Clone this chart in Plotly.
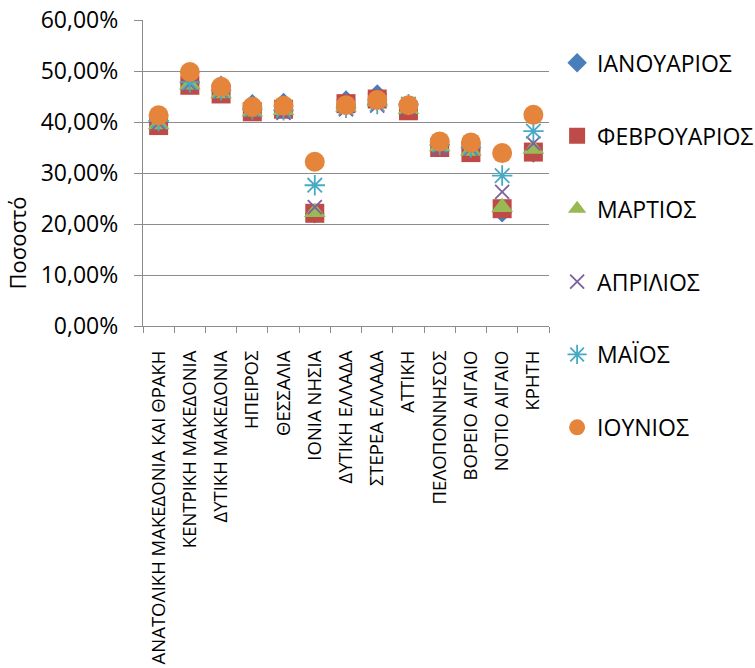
import plotly.graph_objects as go

categories = ["ΑΝΑΤΟΛΙΚΗ ΜΑΚΕΔΟΝΙΑ ΚΑΙ ΘΡΑΚΗ", "ΚΕΝΤΡΙΚΗ ΜΑΚΕΔΟΝΙΑ", "ΔΥΤΙΚΗ ΜΑΚΕΔΟΝΙΑ",
              "ΗΠΕΙΡΟΣ", "ΘΕΣΣΑΛΙΑ", "ΙΟΝΙΑ ΝΗΣΙΑ", "ΔΥΤΙΚΗ ΕΛΛΑΔΑ", "ΣΤΕΡΕΑ ΕΛΛΑΔΑ",
              "ΑΤΤΙΚΗ", "ΠΕΛΟΠΟΝΝΗΣΟΣ", "ΒΟΡΕΙΟ ΑΙΓΑΙΟ", "ΝΟΤΙΟ ΑΙΓΑΙΟ", "ΚΡΗΤΗ"]

ianouarios = [0.400, 0.475, 0.472, 0.436, 0.438, 0.220, 0.443, 0.455, 0.430, 0.355, 0.345, 0.222, 0.339]
fevrouarios = [0.393, 0.472, 0.455, 0.420, 0.425, 0.221, 0.436, 0.445, 0.422, 0.350, 0.340, 0.230, 0.341]
martios = [0.395, 0.473, 0.456, 0.420, 0.423, 0.223, 0.430, 0.440, 0.425, 0.352, 0.343, 0.233, 0.347]
aprilios = [0.398, 0.475, 0.460, 0.423, 0.418, 0.233, 0.425, 0.432, 0.428, 0.348, 0.348, 0.263, 0.358]
maios = [0.402, 0.478, 0.462, 0.425, 0.423, 0.276, 0.428, 0.435, 0.435, 0.355, 0.350, 0.295, 0.382]
iounios = [0.413, 0.498, 0.469, 0.430, 0.432, 0.322, 0.433, 0.443, 0.433, 0.362, 0.360, 0.339, 0.414]

series_names = ["ΙΑΝΟΥΑΡΙΟΣ", "ΦΕΒΡΟΥΑΡΙΟΣ", "ΜΑΡΤΙΟΣ", "ΑΠΡΙΛΙΟΣ", "ΜΑΪΟΣ", "ΙΟΥΝΙΟΣ"]
series_values = [ianouarios, fevrouarios, martios, aprilios, maios, iounios]

styles = [
    dict(symbol="diamond", size=15, color="#4A7EBB", line=dict(width=0)),
    dict(symbol="square", size=19, color="#BE4B48", line=dict(width=0)),
    dict(symbol="triangle-up", size=19, color="#98B954", line=dict(width=0)),
    dict(symbol="x-thin-open", size=14, color="#7D60A0", line=dict(width=1.8, color="#7D60A0")),
    dict(symbol="asterisk-open", size=17, color="#46AAC5", line=dict(width=1.8, color="#46AAC5")),
    dict(symbol="circle", size=20, color="#E5853B", line=dict(width=0)),
]

FONT = "Open Sans"
GRID = "#8C8C8C"

fig = go.Figure()
for i, (name, vals, st) in enumerate(zip(series_names, series_values, styles)):
    fig.add_trace(go.Scatter(
        x=categories, y=vals, name=name, mode="markers",
        marker=st, legendgroup=f"g{i}",
    ))

fig.update_layout(
    width=755, height=668,
    margin=dict(l=143, r=206, t=20, b=342, autoexpand=False),
    paper_bgcolor="white", plot_bgcolor="white",
    separators=",.",
    font=dict(family=FONT, size=22, color="#000000"),
    showlegend=True,
    legend=dict(
        x=1.02, xanchor="left", y=0.93, yanchor="top",
        font=dict(family=FONT, size=23, color="#000000"),
        tracegroupgap=40, bgcolor="rgba(0,0,0,0)", maxheight=640,
    ),
    annotations=[dict(
        text="Ποσοστό", xref="paper", yref="paper", x=-0.31, y=0.27,
        textangle=-90, showarrow=False, xanchor="center", yanchor="middle",
        font=dict(family=FONT, size=22, color="#000000"),
    )],
)

fig.update_xaxes(
    type="category", categoryorder="array", categoryarray=categories,
    showline=True, linecolor=GRID, linewidth=1.3,
    ticks="outside", tickson="boundaries", ticklen=6, tickcolor=GRID, tickwidth=1.3,
    tickangle=-90, tickfont=dict(family=FONT, size=18.5, color="#000000"),
    showgrid=False, automargin=False, ticklabelstandoff=16,
    ticklabeloverflow="allow",
    range=[-0.5, len(categories) - 0.5],
)
fig.update_yaxes(
    range=[0, 0.6], dtick=0.1, tick0=0, tickformat=".2%",
    showline=True, linecolor=GRID, linewidth=1.3,
    ticks="outside", ticklen=8, tickcolor=GRID, tickwidth=1.3,
    showgrid=True, gridcolor=GRID, gridwidth=1.3,
    zeroline=False, automargin=False, ticklabelstandoff=11,
    ticklabeloverflow="allow",
    tickfont=dict(family=FONT, size=23, color="#000000"),
)

fig.write_html(
    "out.html",
    config={"displayModeBar": False},
    post_script="document.body.style.margin='0';document.body.style.overflow='hidden';",
)
